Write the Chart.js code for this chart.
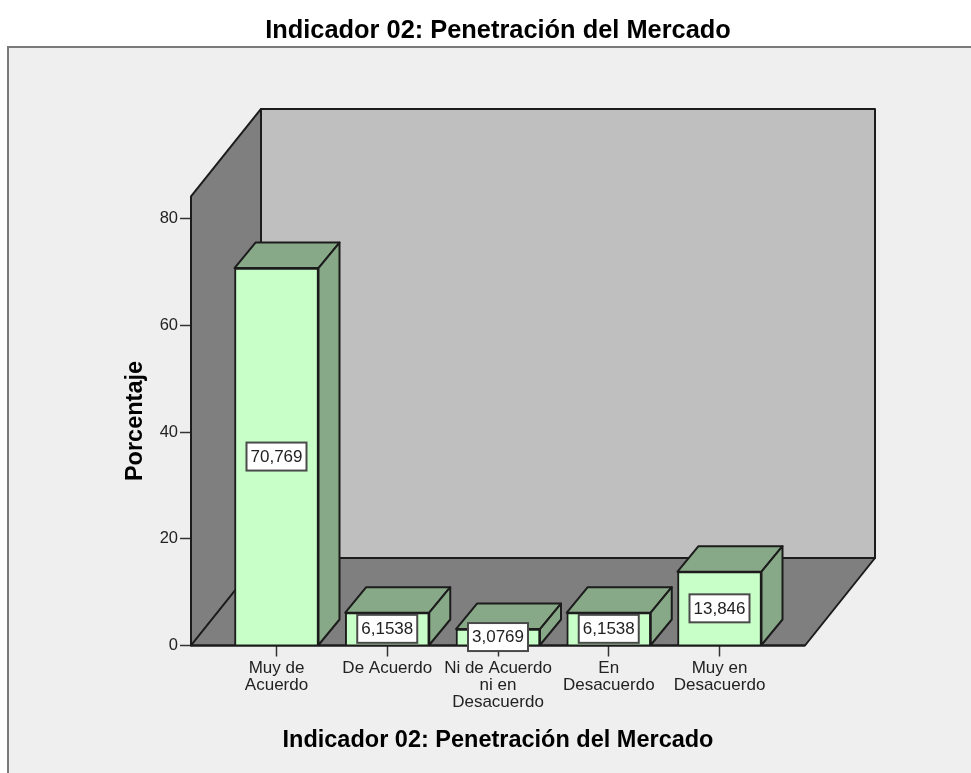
<!DOCTYPE html>
<html>
<head>
<meta charset="utf-8">
<script src="https://cdn.jsdelivr.net/npm/chart.js@4/dist/chart.umd.min.js"></script>
<style>
  html, body { margin: 0; padding: 0; background: #fff; overflow: hidden; }
  canvas { display: block; }
</style>
</head>
<body>
<canvas id="chart" width="971" height="773"></canvas>
<script>
const chartTitle = "Indicador 02: Penetración del Mercado";
const yTitle = "Porcentaje";
const categories = [
  ["Muy de", "Acuerdo"],
  ["De Acuerdo"],
  ["Ni de Acuerdo", "ni en", "Desacuerdo"],
  ["En", "Desacuerdo"],
  ["Muy en", "Desacuerdo"]
];
const percentages = [70.769, 6.1538, 3.0769, 6.1538, 13.846];
const yTicks = [0, 20, 40, 60, 80];

const FONT = "'Liberation Sans', Arial, sans-serif";
const INK = "#1c1c1c";
const LINE = 2;

// Depth of the box and of each bar, in pixels
const WALL_DX = 70, WALL_DY = 87.5;
const BAR_DX = 21, BAR_DY = 25.5;

function poly(ctx, pts, fill) {
  ctx.beginPath();
  pts.forEach((p, i) => i ? ctx.lineTo(p[0], p[1]) : ctx.moveTo(p[0], p[1]));
  ctx.closePath();
  ctx.fillStyle = fill;
  ctx.fill();
  ctx.stroke();
}

// Grey panel behind everything
const framePlugin = {
  id: "frame",
  beforeDraw(chart) {
    const ctx = chart.ctx;
    ctx.save();
    ctx.fillStyle = "#efefef";
    ctx.strokeStyle = "#7a7a7a";
    ctx.lineWidth = 2;
    ctx.fillRect(8, 47, 970, 740);
    ctx.strokeRect(8, 47, 970, 740);
    ctx.restore();
  }
};

// Back wall, side wall, floor and the 3D faces of the bars
const boxPlugin = {
  id: "box3d",
  beforeDatasetsDraw(chart) {
    const ctx = chart.ctx;
    const { left, right, top, bottom } = chart.chartArea;
    const dx = WALL_DX, dy = WALL_DY;
    ctx.save();
    ctx.strokeStyle = INK;
    ctx.lineWidth = LINE;
    ctx.lineJoin = "round";
    poly(ctx, [[left + dx, top - dy], [right + dx, top - dy], [right + dx, bottom - dy], [left + dx, bottom - dy]], "#bfbfbf");
    poly(ctx, [[left, top], [left + dx, top - dy], [left + dx, bottom - dy], [left, bottom]], "#7f7f7f");
    poly(ctx, [[left, bottom], [left + dx, bottom - dy], [right + dx, bottom - dy], [right, bottom]], "#7f7f7f");
    chart.getDatasetMeta(0).data.forEach(bar => {
      const l = bar.x - bar.width / 2, r = bar.x + bar.width / 2;
      poly(ctx, [[l, bar.y], [l + BAR_DX, bar.y - BAR_DY], [r + BAR_DX, bar.y - BAR_DY], [r, bar.y]], "#87a987");
      poly(ctx, [[r, bar.y], [r + BAR_DX, bar.y - BAR_DY], [r + BAR_DX, bar.base - BAR_DY], [r, bar.base]], "#87a987");
    });
    ctx.restore();
  },
  afterDatasetsDraw(chart) {
    const ctx = chart.ctx;
    const { left, right, bottom } = chart.chartArea;
    ctx.save();
    ctx.strokeStyle = INK;
    ctx.lineWidth = LINE;
    ctx.beginPath();
    ctx.moveTo(left, bottom);
    ctx.lineTo(right, bottom);
    ctx.stroke();
    // value boxes
    ctx.font = "17px " + FONT;
    ctx.textAlign = "center";
    ctx.textBaseline = "middle";
    chart.getDatasetMeta(0).data.forEach((bar, i) => {
      const cy = (bar.y + bar.base) / 2;
      ctx.fillStyle = "#fff";
      ctx.strokeStyle = "#4a4a4a";
      ctx.lineWidth = 2;
      ctx.fillRect(bar.x - 30, cy - 14, 60, 28);
      ctx.strokeRect(bar.x - 30, cy - 14, 60, 28);
      ctx.fillStyle = "#222";
      ctx.fillText(String(percentages[i]).replace(".", ","), bar.x, cy + 0.5);
    });
    ctx.restore();
  }
};

new Chart(document.getElementById("chart"), {
  type: "bar",
  data: {
    datasets: [{
      data: percentages.map((v, i) => ({ x: i, y: v })),
      backgroundColor: "#c8ffc8",
      borderColor: INK,
      borderWidth: LINE,
      barThickness: 84
    }]
  },
  options: {
    responsive: false,
    animation: false,
    layout: { padding: { left: 121, right: 166, top: 16, bottom: 18 } },
    plugins: {
      legend: { display: false },
      tooltip: { enabled: false },
      title: {
        display: true,
        text: chartTitle,
        fullSize: false,
        color: "#000",
        font: { family: FONT, size: 25.4, weight: "bold" },
        padding: { top: 0, bottom: 150 }
      }
    },
    scales: {
      x: {
        type: "linear",
        offset: false,
        min: -0.772,
        max: 4.772,
        afterBuildTicks(axis) { axis.ticks = categories.map((c, i) => ({ value: i })); },
        afterFit(axis) { axis.height = 109.5; },
        border: { display: false },
        grid: { offset: false, drawOnChartArea: false, drawTicks: true, tickLength: 11, tickWidth: 1.5, tickColor: "#333" },
        ticks: {
          autoSkip: false,
          maxRotation: 0,
          padding: 3,
          color: "#222",
          font: { family: FONT, size: 17, lineHeight: 1 },
          callback: (value) => categories[value]
        },
        title: {
          display: true,
          text: chartTitle,
          color: "#000",
          font: { family: FONT, size: 23.5, weight: "bold" },
          padding: { top: 6, bottom: 0 }
        }
      },
      y: {
        min: 0,
        max: 84.2,
        afterBuildTicks(axis) { axis.ticks = yTicks.map(v => ({ value: v })); },
        afterFit(axis) { axis.width = 70; },
        border: { display: false },
        grid: { drawOnChartArea: false, drawTicks: true, tickLength: 11, tickWidth: 1.5, tickColor: "#333" },
        ticks: {
          padding: 2,
          color: "#222",
          font: { family: FONT, size: 16.5 }
        },
        title: {
          display: true,
          text: yTitle,
          color: "#000",
          font: { family: FONT, size: 23.5, weight: "bold" },
          padding: { top: 0, bottom: 0 }
        }
      }
    }
  },
  plugins: [framePlugin, boxPlugin]
});
</script>
</body>
</html>
